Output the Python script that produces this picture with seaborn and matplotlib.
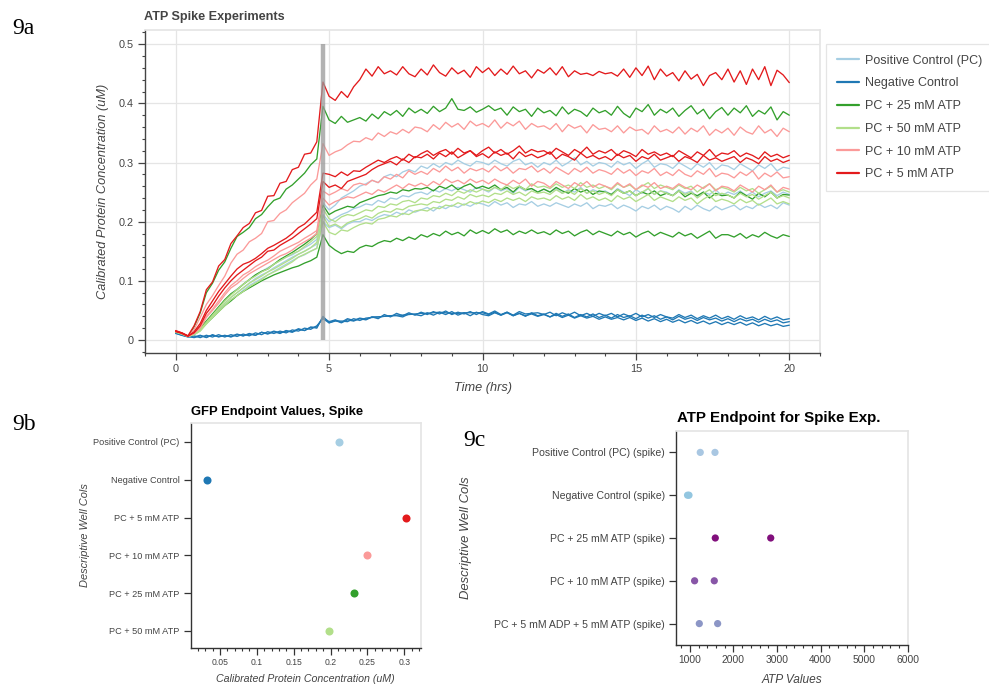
import numpy as np
import pandas as pd
import matplotlib
matplotlib.use("Agg")
import matplotlib.pyplot as plt
from matplotlib.lines import Line2D
from matplotlib.ticker import MultipleLocator, FuncFormatter
import seaborn as sns

sns.set_theme(style="white")
plt.rcParams["font.family"] = ["Liberation Sans", "DejaVu Sans"]

# ---------------- 9a data: time courses (nM, sampled every 0.2 h from 0 to 20 h) ----------------
TIME_STEP_HRS = 0.2
SPIKE_TIME_HRS = 4.8
SPIKE_MARK_RANGE = (0.0, 0.5)

conditions = ["Positive Control (PC)", "Negative Control", "PC + 25 mM ATP",
              "PC + 50 mM ATP", "PC + 10 mM ATP", "PC + 5 mM ATP"]
condition_colors = ["#a6cee3", "#1f78b4", "#33a02c", "#b2df8a", "#fb9a99", "#e31a1c"]

pc_a = [14, 11, 6, 10, 18, 30, 42, 55, 66, 78,
        86, 94, 102, 110, 116, 122, 128, 134, 140, 144,
        150, 156, 162, 170, 232, 220, 228, 240, 246, 252,
        260, 264, 270, 266, 276, 280, 276, 284, 288, 284,
        294, 290, 298, 292, 300, 296, 304, 298, 294, 302,
        300, 296, 304, 298, 294, 302, 306, 296, 300, 292,
        300, 296, 304, 294, 300, 308, 296, 302, 294, 300,
        298, 292, 302, 296, 300, 290, 298, 304, 292, 298,
        296, 290, 300, 294, 288, 298, 292, 300, 288, 296,
        294, 288, 298, 292, 286, 296, 290, 298, 286, 292,
        290]
pc_b = [13, 11, 6, 10, 17, 30, 40, 52, 62, 72,
        80, 88, 96, 104, 110, 115, 122, 128, 134, 140,
        145, 150, 156, 162, 212, 200, 206, 212, 216, 222,
        225, 230, 228, 236, 232, 240, 238, 244, 242, 248,
        250, 246, 254, 250, 256, 252, 258, 254, 250, 258,
        255, 250, 258, 252, 256, 248, 258, 252, 256, 250,
        255, 250, 256, 248, 254, 250, 258, 248, 254, 250,
        252, 246, 256, 250, 244, 254, 248, 256, 246, 252,
        250, 244, 254, 248, 252, 242, 250, 246, 254, 244,
        250, 246, 252, 244, 250, 242, 248, 252, 244, 250,
        246]
pc_c = [13, 10, 6, 9, 16, 28, 38, 50, 60, 68,
        75, 84, 92, 98, 104, 110, 116, 122, 128, 134,
        140, 144, 150, 155, 200, 190, 194, 188, 196, 200,
        200, 205, 202, 208, 212, 210, 216, 212, 220, 216,
        220, 224, 218, 226, 222, 228, 224, 230, 226, 232,
        230, 226, 234, 228, 232, 224, 230, 228, 234, 226,
        230, 226, 232, 228, 224, 230, 226, 232, 222, 228,
        226, 230, 222, 228, 224, 218, 226, 222, 228, 220,
        226, 222, 216, 226, 220, 228, 222, 218, 226, 220,
        224, 228, 220, 226, 222, 230, 224, 228, 222, 232,
        228]

neg_a = [12, 9, 6, 5, 8, 4, 9, 5, 8, 5,
         9, 7, 10, 8, 13, 10, 14, 11, 16, 13,
         18, 16, 21, 22, 38, 31, 34, 30, 36, 33,
         37, 35, 39, 36, 43, 39, 45, 41, 46, 42,
         47, 43, 48, 44, 49, 43, 47, 44, 48, 43,
         48, 44, 49, 43, 47, 42, 48, 44, 45, 46,
         43, 47, 41, 46, 42, 47, 41, 45, 40, 45,
         41, 45, 39, 44, 40, 45, 39, 43, 38, 43,
         39, 37, 43, 38, 42, 36, 41, 37, 42, 36,
         40, 35, 41, 36, 39, 34, 40, 35, 39, 34,
         36]
neg_b = [11, 8, 5, 7, 4, 8, 5, 9, 5, 9,
         6, 10, 7, 12, 9, 14, 11, 15, 12, 17,
         15, 20, 18, 24, 36, 29, 32, 32, 31, 36,
         33, 37, 38, 39, 40, 41, 41, 39, 44, 43,
         41, 46, 42, 47, 43, 48, 42, 46, 41, 47,
         43, 41, 46, 42, 47, 41, 45, 40, 46, 41,
         44, 39, 45, 40, 44, 38, 43, 39, 44, 38,
         42, 37, 43, 38, 41, 36, 42, 37, 41, 35,
         39, 34, 40, 35, 38, 33, 38, 34, 37, 32,
         36, 31, 36, 32, 35, 30, 35, 31, 34, 29,
         31]
neg_c = [12, 8, 6, 4, 7, 5, 8, 6, 7, 6,
         10, 7, 11, 8, 13, 11, 15, 12, 15, 14,
         19, 16, 22, 20, 40, 29, 33, 29, 34, 32,
         36, 34, 39, 39, 40, 41, 42, 42, 43, 44,
         45, 45, 46, 47, 46, 45, 45, 46, 46, 46,
         46, 43, 47, 42, 46, 41, 45, 41, 44, 40,
         43, 39, 43, 38, 42, 37, 41, 37, 40, 35,
         39, 35, 38, 34, 38, 33, 37, 32, 36, 31,
         35, 30, 34, 29, 33, 28, 32, 27, 31, 26,
         30, 26, 30, 25, 29, 24, 28, 24, 27, 23,
         25]

atp25_a = [14, 11, 6, 22, 46, 80, 96, 118, 132, 155,
           175, 182, 190, 205, 212, 225, 236, 240, 255, 262,
           272, 282, 296, 306, 395, 372, 366, 378, 368, 372,
           376, 370, 382, 374, 386, 380, 388, 378, 392, 384,
           390, 383, 395, 386, 392, 408, 390, 388, 394, 385,
           390, 396, 388, 392, 380, 394, 386, 390, 378, 392,
           384, 388, 379, 394, 382, 390, 386, 378, 392, 384,
           388, 380, 395, 383, 376, 392, 386, 398, 380, 390,
           384, 392, 378, 388, 396, 382, 390, 374, 386, 393,
           380, 392, 384, 396, 378, 388, 382, 394, 372, 386,
           380]
atp25_b = [14, 11, 6, 11, 20, 32, 44, 56, 68, 78,
           85, 94, 102, 110, 116, 120, 128, 136, 142, 148,
           155, 162, 170, 180, 228, 212, 218, 222, 226, 224,
           232, 236, 240, 244, 246, 250, 248, 254, 252, 256,
           255, 258, 252, 260, 256, 262, 254, 260, 264, 256,
           260, 256, 262, 254, 258, 250, 260, 254, 256, 250,
           255, 250, 258, 252, 248, 256, 250, 254, 246, 252,
           250, 246, 254, 248, 252, 244, 250, 246, 252, 244,
           248, 244, 252, 242, 248, 244, 250, 240, 248, 244,
           245, 240, 250, 244, 238, 248, 242, 250, 240, 246,
           245]
atp25_c = [14, 11, 6, 10, 18, 28, 38, 48, 58, 66,
           75, 82, 88, 94, 100, 105, 110, 114, 118, 122,
           125, 130, 134, 140, 178, 160, 152, 146, 150, 148,
           156, 160, 158, 164, 168, 166, 172, 168, 174, 170,
           178, 174, 180, 176, 184, 178, 182, 176, 186, 180,
           185, 180, 188, 182, 186, 178, 184, 180, 186, 180,
           183, 178, 186, 180, 184, 176, 182, 186, 178, 184,
           180, 176, 184, 178, 182, 174, 180, 184, 176, 182,
           178, 174, 182, 176, 180, 172, 178, 184, 172, 178,
           178, 174, 180, 172, 178, 174, 182, 176, 172, 178,
           175]

atp50_a = [14, 11, 6, 10, 18, 30, 42, 54, 66, 76,
           85, 94, 102, 108, 115, 120, 128, 134, 140, 146,
           150, 158, 166, 175, 222, 205, 200, 208, 212, 210,
           215, 220, 218, 226, 224, 230, 228, 234, 236, 232,
           240, 238, 244, 242, 248, 244, 252, 248, 254, 250,
           255, 252, 258, 254, 262, 256, 260, 254, 264, 258,
           260, 256, 264, 258, 262, 256, 266, 258, 262, 256,
           260, 254, 264, 258, 262, 254, 260, 266, 256, 262,
           258, 254, 262, 256, 260, 250, 258, 264, 254, 258,
           255, 250, 258, 252, 256, 248, 254, 260, 250, 254,
           250]
atp50_b = [14, 10, 6, 9, 16, 28, 40, 52, 62, 72,
           80, 88, 96, 102, 108, 115, 120, 126, 132, 138,
           145, 150, 156, 165, 210, 192, 196, 190, 198, 202,
           205, 210, 206, 214, 218, 216, 222, 220, 226, 228,
           230, 228, 234, 232, 238, 236, 242, 238, 246, 242,
           245, 242, 248, 246, 252, 246, 250, 244, 252, 248,
           250, 246, 254, 248, 252, 246, 256, 248, 252, 246,
           250, 244, 254, 248, 252, 244, 250, 256, 246, 252,
           248, 244, 252, 246, 250, 240, 248, 254, 244, 248,
           245, 240, 248, 242, 246, 238, 244, 250, 240, 244,
           240]
atp50_c = [13, 10, 6, 9, 15, 27, 38, 48, 58, 68,
           75, 82, 90, 96, 102, 110, 115, 120, 126, 132,
           140, 145, 150, 155, 200, 182, 178, 186, 184, 190,
           195, 198, 196, 204, 206, 210, 208, 214, 212, 218,
           220, 218, 224, 222, 228, 226, 232, 228, 234, 230,
           235, 232, 238, 234, 240, 236, 240, 234, 242, 238,
           240, 236, 244, 238, 242, 236, 246, 238, 242, 236,
           240, 234, 244, 238, 242, 234, 240, 246, 236, 242,
           238, 234, 242, 236, 240, 230, 238, 244, 234, 238,
           235, 230, 238, 232, 236, 228, 234, 240, 230, 234,
           230]

atp10_a = [15, 12, 6, 18, 38, 60, 75, 92, 108, 130,
           145, 152, 166, 172, 180, 200, 202, 214, 220, 232,
           240, 248, 262, 272, 332, 312, 318, 322, 330, 336,
           335, 342, 338, 350, 344, 352, 348, 356, 350, 360,
           358, 352, 364, 356, 368, 360, 366, 356, 370, 362,
           366, 360, 372, 358, 368, 362, 370, 356, 366, 360,
           362, 356, 366, 352, 364, 358, 362, 350, 364, 356,
           358, 352, 362, 350, 360, 354, 356, 348, 362, 352,
           356, 350, 360, 348, 358, 352, 362, 346, 356, 350,
           358, 346, 360, 352, 348, 362, 350, 356, 344, 358,
           352]
atp10_b = [15, 11, 6, 12, 22, 40, 52, 66, 80, 92,
           100, 110, 116, 124, 130, 135, 142, 150, 155, 160,
           165, 172, 178, 185, 252, 245, 250, 256, 252, 262,
           265, 262, 270, 266, 276, 272, 280, 274, 286, 280,
           285, 280, 290, 284, 294, 286, 292, 282, 290, 286,
           290, 284, 294, 286, 292, 282, 290, 288, 294, 284,
           290, 282, 292, 286, 280, 290, 284, 292, 282, 288,
           285, 280, 290, 282, 288, 278, 286, 282, 290, 278,
           284, 278, 288, 280, 276, 286, 280, 290, 276, 282,
           280, 274, 284, 278, 286, 272, 282, 276, 284, 274,
           276]
atp10_c = [15, 12, 6, 11, 20, 38, 50, 62, 76, 88,
           95, 104, 112, 118, 124, 130, 136, 142, 146, 152,
           160, 166, 172, 180, 240, 228, 234, 238, 242, 240,
           245, 250, 246, 254, 250, 256, 262, 256, 264, 260,
           265, 260, 268, 262, 272, 266, 270, 264, 272, 266,
           270, 264, 272, 266, 262, 270, 264, 272, 260, 268,
           265, 258, 268, 262, 256, 266, 260, 268, 258, 264,
           260, 256, 266, 258, 264, 254, 262, 258, 266, 256,
           260, 256, 264, 258, 254, 262, 256, 264, 252, 260,
           258, 252, 262, 256, 250, 260, 254, 262, 250, 258,
           255]

atp5_a = [16, 12, 7, 24, 48, 85, 98, 125, 136, 163,
          176, 190, 197, 215, 219, 243, 244, 265, 268, 288,
          292, 314, 316, 335, 436, 412, 405, 420, 410, 428,
          440, 458, 446, 462, 450, 455, 448, 462, 450, 445,
          458, 448, 465, 452, 446, 460, 450, 456, 444, 462,
          452, 460, 447, 458, 449, 463, 450, 455, 443, 457,
          451, 460, 448, 462, 445, 455, 449, 451, 447, 454,
          450, 452, 446, 458, 444, 460, 447, 463, 440, 458,
          446, 452, 438, 455, 441, 449, 430, 447, 452, 440,
          458, 436, 455, 432, 458, 440, 462, 430, 456, 448,
          435]
atp5_b = [15, 11, 6, 14, 28, 50, 66, 82, 95, 108,
          120, 128, 132, 138, 146, 155, 160, 166, 172, 180,
          190, 196, 206, 216, 282, 280, 276, 284, 278, 286,
          285, 292, 298, 304, 300, 306, 310, 304, 314, 308,
          315, 320, 312, 318, 322, 314, 324, 316, 320, 312,
          320, 326, 316, 322, 314, 320, 328, 316, 322, 318,
          320, 314, 324, 318, 312, 322, 316, 326, 314, 320,
          316, 322, 312, 320, 316, 310, 322, 314, 318, 312,
          316, 310, 320, 314, 308, 318, 312, 322, 310, 316,
          314, 320, 310, 316, 312, 306, 318, 310, 314, 308,
          312]
atp5_c = [14, 12, 7, 12, 24, 45, 58, 74, 88, 100,
          110, 118, 126, 134, 140, 150, 152, 160, 166, 172,
          180, 188, 196, 205, 268, 258, 262, 256, 268, 272,
          276, 280, 288, 294, 298, 302, 296, 306, 300, 310,
          308, 314, 306, 316, 310, 318, 308, 314, 320, 310,
          315, 308, 318, 312, 316, 306, 318, 310, 314, 308,
          312, 318, 306, 314, 310, 304, 316, 308, 312, 306,
          310, 304, 314, 308, 312, 302, 310, 306, 314, 304,
          308, 312, 302, 310, 306, 300, 312, 304, 308, 302,
          306, 310, 300, 308, 304, 298, 310, 302, 306, 300,
          304]

traces_nM = {
    "Positive Control (PC)": [pc_a, pc_b, pc_c],
    "Negative Control": [neg_a, neg_b, neg_c],
    "PC + 25 mM ATP": [atp25_a, atp25_b, atp25_c],
    "PC + 50 mM ATP": [atp50_a, atp50_b, atp50_c],
    "PC + 10 mM ATP": [atp10_a, atp10_b, atp10_c],
    "PC + 5 mM ATP": [atp5_a, atp5_b, atp5_c],
}

# ---------------- 9b data: GFP endpoint ----------------
gfp_conditions = ["Positive Control (PC)", "Negative Control", "PC + 5 mM ATP",
                  "PC + 10 mM ATP", "PC + 25 mM ATP", "PC + 50 mM ATP"]
gfp_endpoint_uM = [0.212, 0.032, 0.302, 0.250, 0.232, 0.198]

# ---------------- 9c data: ATP endpoint ----------------
atp_conditions = ["Positive Control (PC) (spike)", "Negative Control (spike)",
                  "PC + 25 mM ATP (spike)", "PC + 10 mM ATP (spike)",
                  "PC + 5 mM ADP + 5 mM ATP (spike)"]
atp_rep1 = [1237, 945, 1582, 1107, 1215]
atp_rep2 = [1575, 978, 2855, 1559, 1636]
atp_colors = ["#a9c7e2", "#93c6e0", "#810f7c", "#8856a7", "#8c96c6"]

# ---------------- build tables ----------------
rows = []
for cond, reps in traces_nM.items():
    for r, vals in enumerate(reps):
        for i, v in enumerate(vals):
            rows.append((cond, f"{cond}-{r}", i * TIME_STEP_HRS, v / 1000.0))
df_time = pd.DataFrame(rows, columns=["condition", "well", "time", "conc"])

palette = dict(zip(conditions, condition_colors))

df_gfp = pd.DataFrame({"condition": gfp_conditions, "value": gfp_endpoint_uM})
df_atp = pd.DataFrame({
    "condition": atp_conditions * 2,
    "value": atp_rep1 + atp_rep2,
})
atp_palette = dict(zip(atp_conditions, atp_colors))

# ---------------- figure ----------------
W, H = 989, 685
fig = plt.figure(figsize=(W / 100, H / 100), dpi=100)
fig.patch.set_facecolor("white")


def fx(px):
    return px / W


def fy(py):
    return 1 - py / H


DARK = "#444444"
LIGHT = "#e5e5e5"

# ---- 9a ----
ax1 = fig.add_axes([fx(145), fy(353), fx(820) - fx(145), fy(30) - fy(353)])
sns.lineplot(data=df_time, x="time", y="conc", hue="condition", units="well",
             estimator=None, hue_order=conditions, palette=palette,
             linewidth=0.95, legend=False, ax=ax1)
ax1.vlines(SPIKE_TIME_HRS, *SPIKE_MARK_RANGE, color="#999999", lw=3.2, alpha=0.75, zorder=5)
ax1.set_xlim(-1, 21)
ax1.set_ylim(-0.022, 0.524)
ax1.xaxis.set_major_locator(MultipleLocator(5))
ax1.xaxis.set_minor_locator(MultipleLocator(1))
ax1.yaxis.set_major_locator(MultipleLocator(0.1))
ax1.yaxis.set_minor_locator(MultipleLocator(0.02))
fmt = FuncFormatter(lambda v, p: f"{v:g}")
ax1.xaxis.set_major_formatter(fmt)
ax1.yaxis.set_major_formatter(fmt)
ax1.grid(True, which="major", color=LIGHT, lw=0.9)
ax1.set_axisbelow(True)
for s in ["top", "right"]:
    ax1.spines[s].set_color(LIGHT)
for s in ["left", "bottom"]:
    ax1.spines[s].set_color(DARK)
    ax1.spines[s].set_linewidth(1.0)
ax1.tick_params(which="major", direction="out", length=5, width=0.9, color=DARK,
                labelsize=7.8, labelcolor=DARK, pad=3, left=True, bottom=True)
ax1.tick_params(which="minor", direction="out", length=2.5, width=0.8, color=DARK,
                left=True, bottom=True)
ax1.set_xlabel("Time (hrs)", fontsize=9.2, style="italic", color=DARK)
ax1.set_ylabel("Calibrated Protein Concentration (uM)", fontsize=9.2, style="italic", color=DARK)
ax1.xaxis.label.set_va("center")
ax1.xaxis.set_label_coords(0.5, (353 - 388) / 323)
ax1.yaxis.label.set_va("center")
ax1.yaxis.label.set_ha("center")
ax1.yaxis.set_label_coords((103 - 145) / 675, 0.5)
fig.text(fx(144), fy(17), "ATP Spike Experiments", fontsize=9.1, fontweight="bold",
         color=DARK, ha="left", va="center")

handles = [Line2D([0], [0], color=c, lw=1.6) for c in condition_colors]
leg = ax1.legend(handles, conditions, loc="upper left",
                 bbox_to_anchor=((826 - 145) / 675, (353 - 44) / 323),
                 frameon=True, fancybox=False, framealpha=1, edgecolor=LIGHT,
                 fontsize=9.0, handlelength=1.75, handletextpad=0.55,
                 labelspacing=0.86, borderpad=0.85, borderaxespad=0)
for t in leg.get_texts():
    t.set_color(DARK)
leg.get_frame().set_linewidth(0.9)

# ---- 9b ----
ax2 = fig.add_axes([fx(190.7), fy(648), fx(420.7) - fx(190.7), fy(423) - fy(648)])
sns.stripplot(data=df_gfp, x="value", y="condition", hue="condition", order=gfp_conditions,
              palette=palette, jitter=False, size=5.8, linewidth=0, legend=False, ax=ax2)
ax2.set_xlim(0.0103, 0.3222)
ax2.set_ylim(5.45, -0.5)
ax2.xaxis.set_major_locator(MultipleLocator(0.05))
ax2.xaxis.set_minor_locator(MultipleLocator(0.01))
ax2.xaxis.set_major_formatter(fmt)
for s in ["top", "right"]:
    ax2.spines[s].set_color(LIGHT)
    ax2.spines[s].set_visible(True)
for s in ["left", "bottom"]:
    ax2.spines[s].set_color("#333333")
    ax2.spines[s].set_linewidth(1.0)
ax2.tick_params(axis="x", which="major", direction="out", length=5, width=0.9, color="#333333",
                labelsize=6.2, labelcolor=DARK, pad=2.5, bottom=True)
ax2.tick_params(axis="x", which="minor", direction="out", length=2.5, width=0.8, color="#333333",
                bottom=True)
ax2.tick_params(axis="y", which="major", direction="out", length=5, width=0.9, color="#333333",
                labelsize=6.6, labelcolor=DARK, pad=3, left=True)
ax2.grid(False)
ax2.set_xlabel("Calibrated Protein Concentration (uM)", fontsize=7.7, style="italic", color=DARK)
ax2.set_ylabel("Descriptive Well Cols", fontsize=7.9, style="italic", color=DARK)
ax2.xaxis.label.set_va("center")
ax2.xaxis.set_label_coords(0.5, (648 - 679) / 225)
ax2.yaxis.label.set_va("center")
ax2.yaxis.label.set_ha("center")
ax2.yaxis.set_label_coords((85 - 190.7) / 230, 0.5)
fig.text(fx(190.7), fy(411.5), "GFP Endpoint Values, Spike", fontsize=9.4, fontweight="bold",
         color="black", ha="left", va="center")

# ---- 9c ----
ax3 = fig.add_axes([fx(676), fy(645), fx(907.7) - fx(676), fy(431) - fy(645)])
sns.stripplot(data=df_atp, x="value", y="condition", hue="condition", order=atp_conditions,
              palette=atp_palette, jitter=False, size=5.2, linewidth=0, legend=False, ax=ax3)
ax3.set_xlim(680, 6000)
ax3.set_ylim(4.5, -0.5)
ax3.xaxis.set_major_locator(MultipleLocator(1000))
ax3.xaxis.set_minor_locator(MultipleLocator(200))
ax3.xaxis.set_major_formatter(FuncFormatter(lambda v, p: f"{v:.0f}"))
for s in ["top", "right"]:
    ax3.spines[s].set_color(LIGHT)
    ax3.spines[s].set_visible(True)
for s in ["left", "bottom"]:
    ax3.spines[s].set_color("#333333")
    ax3.spines[s].set_linewidth(1.0)
ax3.tick_params(axis="x", which="major", direction="out", length=5, width=0.9, color="#333333",
                labelsize=7.4, labelcolor=DARK, pad=2.5, bottom=True)
ax3.tick_params(axis="x", which="minor", direction="out", length=2.5, width=0.8, color="#333333",
                bottom=True)
ax3.tick_params(axis="y", which="major", direction="out", length=5, width=0.9, color="#333333",
                labelsize=7.6, labelcolor=DARK, pad=3, left=True)
ax3.grid(False)
ax3.set_xlabel("ATP Values", fontsize=8.6, style="italic", color=DARK)
ax3.set_ylabel("Descriptive Well Cols", fontsize=9.4, style="italic", color=DARK)
ax3.xaxis.label.set_va("center")
ax3.xaxis.set_label_coords(0.5, (645 - 680) / 214)
ax3.yaxis.label.set_va("center")
ax3.yaxis.label.set_ha("center")
ax3.yaxis.set_label_coords((466.5 - 676) / 231.7, 0.5)
fig.text(fx(677), fy(418), "ATP Endpoint for Spike Exp.", fontsize=10.9, fontweight="bold",
         color="black", ha="left", va="center")

# ---- panel labels ----
serif = ["Liberation Serif", "DejaVu Serif"]
fig.text(fx(12), fy(28), "9a", fontsize=17, family=serif, color="black", ha="left", va="center")
fig.text(fx(12), fy(424), "9b", fontsize=17, family=serif, color="black", ha="left", va="center")
fig.text(fx(463), fy(441), "9c", fontsize=17, family=serif, color="black", ha="left", va="center")

fig.savefig("out.png", dpi=100, facecolor="white")
